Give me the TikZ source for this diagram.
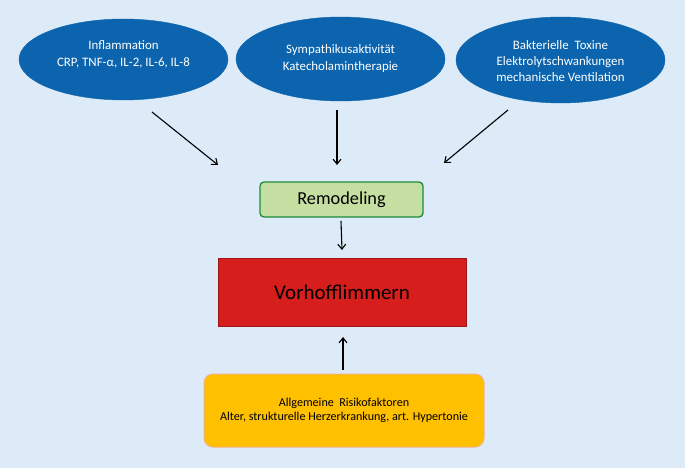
\documentclass[tikz,border=0pt]{standalone}
\usepackage{fontspec}
\setmainfont{Carlito}
\usetikzlibrary{shapes.geometric,arrows.meta}
\definecolor{bgblue}{HTML}{DDEAF7}
\definecolor{ellblue}{HTML}{0B64AD}
\definecolor{remfill}{HTML}{C5DEA1}
\definecolor{remdraw}{HTML}{1E8B3E}
\definecolor{vhfill}{HTML}{D61E1C}
\definecolor{vhdraw}{HTML}{A01515}
\definecolor{riskfill}{HTML}{FFC000}
\definecolor{riskdraw}{HTML}{F4B183}
\tikzset{
  cause/.style={ellipse, fill=ellblue, draw=ellblue, inner sep=0pt, minimum width=209pt},
  causetext/.style={text=white, align=center, inner sep=0pt, font=\fontsize{12.9}{16.3}\selectfont},
  remobox/.style={rectangle, rounded corners=4pt, fill=remfill, draw=remdraw, line width=1.3pt,
    minimum width=163pt, minimum height=35pt, font=\fontsize{18.3}{21}\selectfont},
  vhbox/.style={rectangle, fill=vhfill, draw=vhdraw, line width=0.6pt,
    minimum width=248pt, minimum height=68pt, font=\fontsize{21}{26}\selectfont},
  riskbox/.style={rectangle, rounded corners=9pt, fill=riskfill, draw=riskdraw, line width=1pt,
    minimum width=280pt, minimum height=73pt, align=center, font=\fontsize{12.1}{14.5}\selectfont},
  arr/.style={-{Straight Barb[length=5pt,width=8pt]}, line width=1.1pt, black}
}
\begin{document}
\begin{tikzpicture}[x=1pt,y=-1pt]
\fill[bgblue] (0,0) rectangle (685,468);
\useasboundingbox (0,0) rectangle (685,468);
\node[cause, minimum height=81pt] (infl) at (123.5,59.5) {};
\node[causetext] (infltxt) at (123.5,54.5) {Inflammation\\CRP, TNF-α, IL-2, IL-6, IL-8};
\node[cause, minimum height=84pt] (symp) at (340.5,59) {};
\node[causetext] (symptxt) at (340.5,58.5) {Sympathikusaktivität\\Katecholamintherapie};
\node[cause, minimum height=86pt] (bakt) at (560.5,60) {};
\node[causetext] (bakttxt) at (560.5,61) {Bakterielle\ \ Toxine\\Elektrolytschwankungen\\mechanische Ventilation};
\node[remobox] (remo) at (341.5,199.5) {Remodeling};
\node[vhbox] (vh) at (342,292) {Vorhofflimmern};
\node[riskbox] (risk) at (344,410.5) {Allgemeine\ \ Risikofaktoren\\Alter, strukturelle Herzerkrankung, art. Hypertonie};
\coordinate (a1s) at (152,112);
\coordinate (a1e) at (218,165);
\coordinate (a2s) at (337,110);
\coordinate (a2e) at (337,165);
\coordinate (a3s) at (508,110);
\coordinate (a3e) at (444,163);
\coordinate (a4s) at (341,221);
\coordinate (a4e) at (342,250);
\coordinate (a5s) at (343,370);
\coordinate (a5e) at (343,337);
\draw[arr] (a1s) -- (a1e);
\draw[arr] (a2s) -- (a2e);
\draw[arr] (a3s) -- (a3e);
\draw[arr] (a4s) -- (a4e);
\draw[arr] (a5s) -- (a5e);
\end{tikzpicture}
\end{document}
